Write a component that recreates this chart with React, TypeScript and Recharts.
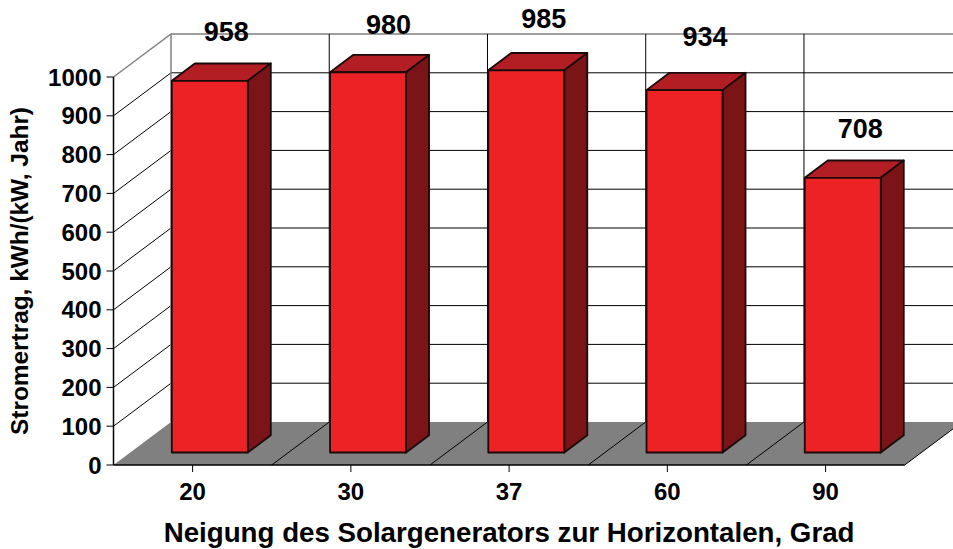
import { Bar, BarChart, Customized, LabelList, usePlotArea, XAxis, YAxis } from "recharts";

const categories = ["20", "30", "37", "60", "90"];
const yields = [958, 980, 985, 934, 708];
const yTicks = [0, 100, 200, 300, 400, 500, 600, 700, 800, 900, 1000];

const xTitle = "Neigung des Solargenerators zur Horizontalen, Grad";
const yTitle = "Stromertrag, kWh/(kW, Jahr)";

const data = categories.map((category, i) => ({ category, value: yields[i] }));

const FONT = "'Liberation Sans', Arial, sans-serif";
const MAX = 1000;

// depth of the whole 3d box, and of one bar
const DEPTH_X = 57.5;
const DEPTH_Y = 43;
const BAR_SHIFT_X = 17.3;
const BAR_SHIFT_Y = 12.5;
const BAR_DEPTH_X = 23;
const BAR_DEPTH_Y = 17.3;

// the value labels were placed by hand in the original
const labelNudgeX = [0, 4, 1, 4, 1];
const labelNudgeY = [1, 2, -2, -4, 1];

// walls and floor behind the bars
function Box3D() {
  const plot = usePlotArea();
  if (!plot) return null;
  const { x, y, width, height } = plot;
  const bottom = y + height;
  const right = x + width;
  const step = width / categories.length;
  const yOf = (v: number) => bottom - (v / MAX) * height;

  return (
    <g>
      <polygon
        points={`${x},${bottom} ${x + DEPTH_X},${bottom - DEPTH_Y} ${right + DEPTH_X},${bottom - DEPTH_Y} ${right},${bottom}`}
        fill="#808080"
      />
      {yTicks.map((t) => {
        const isEdge = t === MAX;
        const stroke = isEdge ? "#808080" : "#000";
        return t === 0 ? null : (
          <polyline
            key={t}
            points={`${x},${yOf(t)} ${x + DEPTH_X},${yOf(t) - DEPTH_Y} ${right + DEPTH_X},${yOf(t) - DEPTH_Y}`}
            fill="none"
            stroke={stroke}
            strokeWidth={isEdge ? 1.5 : 1}
          />
        );
      })}
      {categories.map((c, i) =>
        i === 0 ? null : (
          <polyline
            key={c}
            points={`${x + step * i},${bottom} ${x + step * i + DEPTH_X},${bottom - DEPTH_Y} ${x + step * i + DEPTH_X},${y - DEPTH_Y}`}
            fill="none"
            stroke="#000"
            strokeWidth={1}
          />
        )
      )}
      <line
        x1={x + DEPTH_X}
        y1={y - DEPTH_Y}
        x2={x + DEPTH_X}
        y2={bottom - DEPTH_Y}
        stroke="#808080"
        strokeWidth={1.5}
      />
      <line
        x1={right}
        y1={bottom}
        x2={right + DEPTH_X}
        y2={bottom - DEPTH_Y}
        stroke="#000"
        strokeWidth={1}
      />
    </g>
  );
}

function Bar3D({ x, y, width, height }: any) {
  const left = x + BAR_SHIFT_X;
  const top = y - BAR_SHIFT_Y;
  const right = left + width;
  const bottom = top + height;
  return (
    <g stroke="#1a0a0a" strokeWidth={1.8} strokeLinejoin="round">
      <polygon
        points={`${left},${top} ${left + BAR_DEPTH_X},${top - BAR_DEPTH_Y} ${right + BAR_DEPTH_X},${top - BAR_DEPTH_Y} ${right},${top}`}
        fill="#B31E24"
      />
      <polygon
        points={`${right},${top} ${right + BAR_DEPTH_X},${top - BAR_DEPTH_Y} ${right + BAR_DEPTH_X},${bottom - BAR_DEPTH_Y} ${right},${bottom}`}
        fill="#7B1416"
      />
      <rect x={left} y={top} width={width} height={height} fill="#ED2224" />
    </g>
  );
}

function ValueLabel({ x, y, width, value, index }: any) {
  return (
    <text
      x={x + width / 2 + BAR_SHIFT_X + 16.5 + labelNudgeX[index]}
      y={y - BAR_SHIFT_Y - BAR_DEPTH_Y - 32 + labelNudgeY[index]}
      textAnchor="middle"
      dominantBaseline="central"
      fontFamily={FONT}
      fontWeight="bold"
      fontSize={27}
      fill="#000"
    >
      {value}
    </text>
  );
}

export default function App() {
  return (
    <div style={{ position: "absolute", left: 0, top: 0 }}>
      <BarChart
        width={953}
        height={549}
        data={data}
        barSize={76}
        margin={{ top: 77, right: 48.3, bottom: 0, left: 0 }}
        style={{ fontFamily: FONT }}
      >
        <Customized component={<Box3D />} />
        <XAxis
          dataKey="category"
          height={84}
          interval={0}
          tickSize={7}
          tickMargin={11}
          axisLine={{ stroke: "#000", strokeWidth: 1.5 }}
          tickLine={{ stroke: "#000", strokeWidth: 1 }}
          tick={{ fill: "#000", fontSize: 24, fontWeight: "bold", fontFamily: FONT }}
          label={{
            value: xTitle,
            position: "insideBottom",
            offset: 7,
            fill: "#000",
            fontSize: 27.7,
            fontWeight: "bold",
            fontFamily: FONT,
          }}
        />
        <YAxis
          width={113.5}
          domain={[0, MAX]}
          ticks={yTicks}
          interval={0}
          tickSize={7}
          tickMargin={5}
          axisLine={{ stroke: "#000", strokeWidth: 1.5 }}
          tickLine={{ stroke: "#000", strokeWidth: 1 }}
          tick={{ fill: "#000", fontSize: 24, fontWeight: "bold", fontFamily: FONT }}
          label={{
            value: yTitle,
            angle: -90,
            position: "insideLeft",
            offset: 19,
            fill: "#000",
            fontSize: 24.4,
            fontWeight: "bold",
            fontFamily: FONT,
            style: { textAnchor: "middle" },
          }}
        />
        <Bar dataKey="value" shape={<Bar3D />} isAnimationActive={false}>
          <LabelList dataKey="value" content={<ValueLabel />} />
        </Bar>
      </BarChart>
    </div>
  );
}
